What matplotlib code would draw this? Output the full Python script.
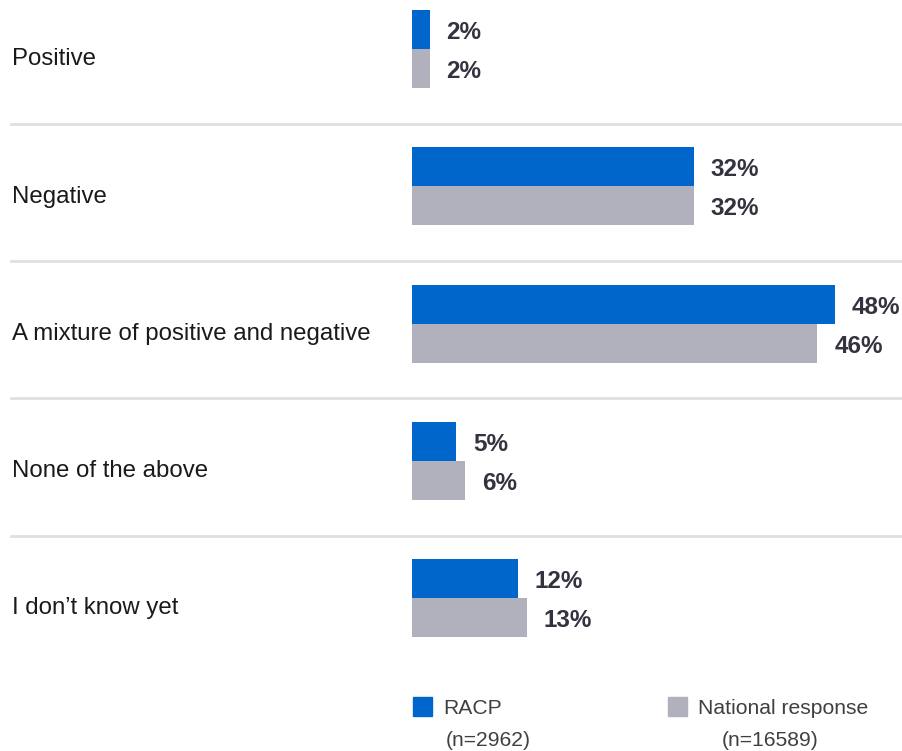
import matplotlib
matplotlib.use('agg')
import matplotlib.pyplot as plt
import matplotlib.transforms as mtransforms
from matplotlib.patches import Rectangle
import numpy as np

# Data
categories = ['Positive', 'Negative', 'A mixture of positive and negative',
              'None of the above', 'I don\u2019t know yet']
racp = [2, 32, 48, 5, 12]
national = [2, 32, 46, 6, 13]
series_names = ['RACP', 'National response']
series_n = ['(n=2962)', '(n=16589)']
colors = ['#0066CC', '#B1B1BD']

plt.rcParams['font.family'] = ['Liberation Sans', 'DejaVu Sans']

W, H = 902, 751
fig = plt.figure(figsize=(W / 100, H / 100), dpi=100)

# axes: bars start at x=412px, 8.81 px per percent; rows 137.25 px apart
row_px = 137.25
ax = fig.add_axes([412 / W, 0, (W - 412) / W, 1])
ax.set_xlim(0, (W - 412) / 8.81)
top = -49 / row_px
ax.set_ylim(top + H / row_px, top)
ax.axis('off')

y = np.arange(len(categories))
bh = 39 / row_px
ax.barh(y - bh / 2, racp, height=bh, color=colors[0], linewidth=0)
ax.barh(y + bh / 2, national, height=bh, color=colors[1], linewidth=0)

for i in range(len(categories)):
    ax.annotate(f'{racp[i]}%', (racp[i], y[i] - bh / 2), xytext=(17, -3),
                textcoords='offset pixels', va='center', ha='left',
                fontsize=17.5, fontweight='bold', color='#333340')
    ax.annotate(f'{national[i]}%', (national[i], y[i] + bh / 2), xytext=(17, -3),
                textcoords='offset pixels', va='center', ha='left',
                fontsize=17.5, fontweight='bold', color='#333340')

# category labels and separators
blend = mtransforms.blended_transform_factory(fig.transFigure, ax.transData)
for i, cat in enumerate(categories):
    fig.text(12 / W, y[i] + 0.075, cat, transform=blend, va='center', ha='left',
             fontsize=17.3, color='#1a1a1a')
    if i < len(categories) - 1:
        ax.plot([11 / W, 1], [y[i] + 0.545, y[i] + 0.545], transform=blend,
                color='#E0E0E0', linewidth=2, clip_on=False)

# legend
leg_x = [413, 668]
for j in range(2):
    fig.patches.append(Rectangle((leg_x[j] / W, 1 - 716 / H), 19 / W, 19 / H,
                                 transform=fig.transFigure, color=colors[j]))
    fig.text((leg_x[j] + 30) / W, 1 - 708 / H, series_names[j], va='center',
             ha='left', fontsize=15.2, color='#404040')
    fig.text((leg_x[j] + 33 + 21 * j) / W, 1 - 741 / H, series_n[j], va='center',
             ha='left', fontsize=15.2, color='#404040')

plt.savefig('out.png', dpi=100)
